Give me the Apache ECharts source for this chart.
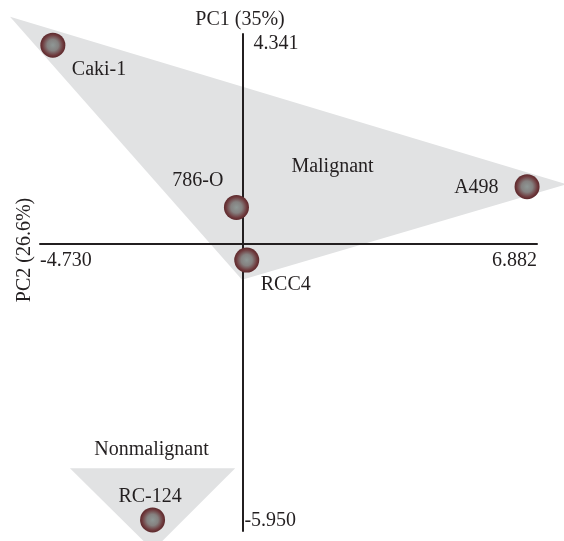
<!DOCTYPE html>
<html>
<head>
<meta charset="utf-8">
<script src="https://cdn.jsdelivr.net/npm/echarts@6/dist/echarts.min.js"></script>
<style>
  html, body { margin: 0; padding: 0; background: #ffffff; }
  #chart { width: 564px; height: 541px; }
</style>
</head>
<body>
<div id="chart"></div>
<script>
// Cell lines and their scores on the two principal components
const cellLines = ['Caki-1', '786-O', 'RCC4', 'A498', 'RC-124'];
const scoreX = [-4.43, -0.14, 0.10, 6.65, -2.10];
const scoreY = [4.11, 0.75, -0.34, 1.18, -5.72];

// Outlines of the shaded groups (triangle vertices in score space)
const groupNames = ['Malignant', 'Nonmalignant'];
const malignantX = [-5.43, 7.58, -0.01];
const malignantY = [4.70, 1.23, -0.75];
const nonmalignantX = [-4.03, -0.17, -2.09];
const nonmalignantY = [-4.65, -4.65, -6.35];

// Axis extents, labelled at both ends
const xTicks = [-4.730, 6.882];
const yTicks = [-5.950, 4.341];
const horizontalTitle = 'PC2 (26.6%)';
const verticalTitle = 'PC1 (35%)';

const INK = '#231f20';
const FONT = 'Liberation Serif, Times New Roman, serif';
const FS = 20;

const outlines = [
  [malignantX, malignantY],
  [nonmalignantX, nonmalignantY]
];

// label placement around each marker (pixels from the marker centre)
const labelPlacement = {
  'Caki-1': { align: 'left', offset: [19, 25] },
  '786-O': { align: 'right', offset: [-13, -26.5] },
  'RCC4': { align: 'left', offset: [14, 25] },
  'A498': { align: 'right', offset: [-28.5, 1] },
  'RC-124': { align: 'center', offset: [-2.5, -23.5] }
};

const markerFill = {
  type: 'radial', x: 0.5, y: 0.5, r: 0.5,
  colorStops: [
    { offset: 0, color: '#8f9896' },
    { offset: 0.45, color: '#858180' },
    { offset: 0.82, color: '#6f3b3e' },
    { offset: 1, color: '#5c282b' }
  ]
};

const points = cellLines.map((name, i) => ({
  name: name,
  value: [scoreX[i], scoreY[i]],
  label: {
    show: true,
    position: 'inside',
    align: labelPlacement[name].align,
    verticalAlign: 'middle',
    offset: labelPlacement[name].offset,
    formatter: name,
    color: INK,
    fontFamily: FONT,
    fontSize: FS
  }
}));

const tickText = { fontFamily: FONT, fontSize: FS, color: INK };
const GRID = { left: 40, right: 27, top: 34, bottom: 10 };

const chart = echarts.init(document.getElementById('chart'), null, { renderer: 'canvas' });
chart.setOption({
  animation: false,
  backgroundColor: '#ffffff',
  grid: Object.assign({ containLabel: false, outerBoundsMode: 'none' }, GRID),
  xAxis: {
    type: 'value',
    position: 'bottom',
    min: xTicks[0],
    max: xTicks[1],
    z: 1,
    axisLine: { onZero: false, lineStyle: { color: INK, width: 2 } },
    axisTick: { show: false },
    splitLine: { show: false },
    axisLabel: {
      customValues: xTicks,
      margin: 7,
      alignMinLabel: 'left',
      alignMaxLabel: 'right',
      formatter: v => v.toFixed(3),
      fontFamily: FONT, fontSize: FS, color: INK
    }
  },
  yAxis: {
    type: 'value',
    position: 'left',
    min: yTicks[0],
    max: yTicks[1],
    z: 1,
    axisLine: { onZero: false, lineStyle: { color: INK, width: 2 } },
    axisTick: { show: false },
    splitLine: { show: false },
    axisLabel: {
      customValues: yTicks,
      inside: true,
      margin: 2,
      verticalAlignMinLabel: 'bottom',
      verticalAlignMaxLabel: 'top',
      formatter: v => (v < 0 ? '{n|' : '{p|') + v.toFixed(3) + '}',
      rich: {
        n: Object.assign({}, tickText),
        p: Object.assign({ padding: [0, 0, 0, 9] }, tickText)
      },
      fontFamily: FONT, fontSize: FS, color: INK
    }
  },
  graphic: [
    {
      type: 'text', z: 10, x: 240, y: 20,
      style: { text: verticalTitle, fill: INK, font: FS + 'px ' + FONT, align: 'center', verticalAlign: 'middle' }
    },
    {
      type: 'text', z: 10, x: 25, y: 250, rotation: Math.PI / 2,
      style: { text: horizontalTitle, fill: INK, font: FS + 'px ' + FONT, align: 'center', verticalAlign: 'middle' }
    },
    {
      type: 'text', z: 10, x: 332.5, y: 167,
      style: { text: groupNames[0], fill: INK, font: FS + 'px ' + FONT, align: 'center', verticalAlign: 'middle' }
    },
    {
      type: 'text', z: 10, x: 151.5, y: 450,
      style: { text: groupNames[1], fill: INK, font: FS + 'px ' + FONT, align: 'center', verticalAlign: 'middle' }
    }
  ],
  series: [
    {
      type: 'custom',
      name: 'groups',
      z: 0,
      clip: false,
      silent: true,
      data: outlines.map((o, i) => [o[0][0], o[1][0], i]),
      renderItem: function (params, api) {
        const o = outlines[params.dataIndex];
        const pts = o[0].map((x, k) => api.coord([x, o[1][k]]));
        return {
          type: 'polygon',
          shape: { points: pts },
          style: { fill: '#e1e2e3', stroke: null }
        };
      }
    },
    {
      type: 'scatter',
      name: 'cell lines',
      z: 3,
      clip: false,
      symbol: 'circle',
      symbolSize: 25,
      itemStyle: { color: markerFill, opacity: 1 },
      data: points
    }
  ]
});

// Move both axes (line and labels) so they cross at the origin
const origin = chart.convertToPixel({ gridIndex: 0 }, [0, 0]);
const H = chart.getHeight();
chart.setOption({
  xAxis: { offset: -((H - GRID.bottom) - origin[1]) },
  yAxis: { offset: -(origin[0] - GRID.left) }
});
</script>
</body>
</html>
